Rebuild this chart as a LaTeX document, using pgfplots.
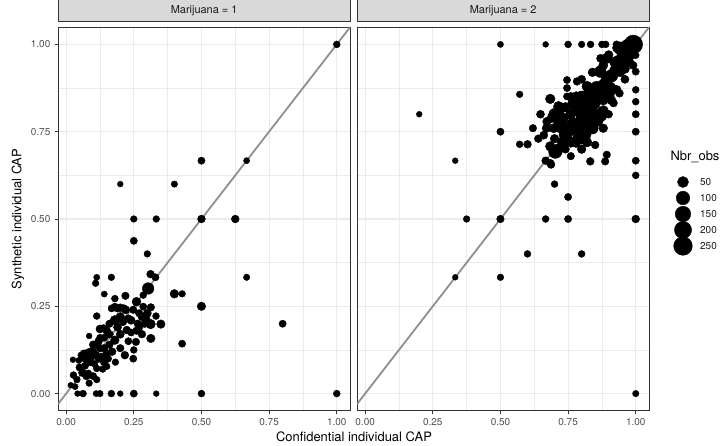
\documentclass[border=0pt]{standalone}
\usepackage{fontspec}
\setmainfont{TeX Gyre Heros}
\usepackage{pgfplots}
\usepackage{pgfplotstable}
\pgfplotsset{compat=1.18}

\definecolor{gridgray}{HTML}{EBEBEB}
\definecolor{stripgray}{HTML}{D9D9D9}
\definecolor{framegray}{HTML}{333333}
\definecolor{ticktext}{HTML}{4D4D4D}
\definecolor{linegray}{HTML}{8F8F8F}

% Marijuana = 1 : confidential CAP, synthetic CAP, Nbr_obs
\pgfplotstableread{
x y n
1.000 1.000 6
0.500 0.667 8
0.667 0.667 3
0.200 0.600 2
0.400 0.600 4
0.250 0.500 5
0.333 0.500 5
0.500 0.500 12
0.625 0.500 12
0.250 0.4375 8
0.300 0.400 5
0.667 0.333 4
0.400 0.2857 20
0.4286 0.2857 5
0.500 0.250 18
0.800 0.200 8
0.4286 0.1429 8
1.000 0.000 6
0.042 0.000 2
0.0625 0.000 6
0.111 0.000 3
0.125 0.000 4
0.167 0.000 6
0.200 0.000 2
0.250 0.000 8
0.333 0.000 2
0.500 0.000 6
0.017 0.024 2
0.025 0.097 2
0.047 0.095 3
0.027 0.053 6
0.040 0.040 5
0.033 0.020 3
0.050 0.075 10
0.055 0.110 4
0.065 0.115 8
0.080 0.118 6
0.060 0.060 12
0.070 0.080 8
0.075 0.050 10
0.085 0.030 5
0.082 0.058 6
0.090 0.090 10
0.085 0.165 2
0.100 0.120 8
0.100 0.140 12
0.110 0.140 14
0.113 0.072 6
0.113 0.040 5
0.100 0.050 8
0.120 0.100 10
0.130 0.105 12
0.150 0.115 15
0.150 0.078 5
0.140 0.090 10
0.125 0.130 12
0.113 0.222 6
0.109 0.316 5
0.113 0.333 3
0.141 0.285 3
0.167 0.333 5
0.180 0.272 6
0.219 0.280 10
0.138 0.187 10
0.125 0.185 14
0.150 0.180 12
0.160 0.200 10
0.168 0.244 8
0.180 0.248 12
0.190 0.244 10
0.200 0.246 12
0.213 0.244 10
0.180 0.210 30
0.190 0.190 15
0.180 0.153 20
0.200 0.170 15
0.182 0.090 5
0.217 0.110 12
0.224 0.182 12
0.210 0.205 10
0.240 0.175 8
0.248 0.240 10
0.260 0.263 22
0.248 0.100 8
0.250 0.125 6
0.258 0.148 10
0.265 0.200 12
0.270 0.230 10
0.280 0.170 12
0.285 0.249 8
0.285 0.282 6
0.290 0.200 10
0.295 0.215 12
0.303 0.301 60
0.312 0.342 12
0.330 0.333 8
0.313 0.247 10
0.332 0.222 6
0.350 0.199 18
0.312 0.199 30
0.313 0.158 18
0.270 0.190 8
0.230 0.215 10
0.160 0.140 10
0.170 0.120 12
0.140 0.160 8
0.125 0.160 6
0.075 0.110 5
0.095 0.105 6
0.105 0.085 5
0.155 0.100 8
0.135 0.070 5
0.200 0.220 20
0.220 0.240 15
0.240 0.210 15
0.160 0.170 12
0.140 0.130 10
0.120 0.150 12
0.090 0.120 12
0.070 0.100 10
0.280 0.220 12
0.300 0.230 15
0.260 0.180 10
0.200 0.130 10
0.230 0.150 8
0.110 0.110 10
}\capone

% Marijuana = 2
\pgfplotstableread{
x y n
0.500 1.000 3
0.667 1.000 2
0.750 1.000 6
0.800 1.000 5
0.833 1.000 6
0.875 1.000 6
0.889 1.000 6
0.929 1.000 8
0.200 0.800 2
0.571 0.857 5
0.500 0.750 8
0.571 0.714 6
0.600 0.714 12
0.333 0.667 2
0.333 0.333 2
0.375 0.500 5
0.500 0.500 10
0.667 0.500 6
0.750 0.500 8
1.000 0.500 12
0.600 0.400 6
0.800 0.400 6
0.500 0.333 5
1.000 0.000 4
0.700 0.600 6
0.750 0.563 8
0.667 0.667 12
0.687 0.656 12
1.000 0.969 6
1.000 0.922 8
1.000 0.870 6
1.000 0.836 6
1.000 0.800 8
1.000 0.750 8
1.000 0.667 8
1.000 0.625 6
0.648 0.800 14
0.672 0.779 20
0.697 0.760 25
0.684 0.844 30
0.715 0.822 40
0.746 0.898 8
0.783 0.894 12
0.746 0.875 8
0.746 0.851 8
0.684 0.708 30
0.703 0.693 100
0.684 0.660 12
0.780 0.717 20
0.820 0.741 15
0.850 0.712 12
0.832 0.665 12
0.893 0.684 10
0.887 0.665 10
0.918 0.832 12
0.832 0.855 150
0.807 0.798 150
0.869 0.922 60
0.893 0.960 40
0.783 0.817 80
0.770 0.770 100
0.820 0.760 80
0.869 0.798 100
0.906 0.875 60
0.942 0.922 40
0.967 0.960 60
0.856 0.875 100
0.733 0.789 40
0.721 0.760 30
0.733 0.741 25
0.783 0.731 30
0.832 0.789 120
0.893 0.903 50
0.942 0.989 80
0.991 1.000 250
0.970 0.995 100
0.930 0.990 20
0.760 0.800 40
0.800 0.850 60
0.850 0.830 40
0.880 0.840 30
0.900 0.800 12
0.880 0.760 20
0.740 0.700 15
0.760 0.680 10
0.800 0.700 20
0.700 0.730 20
0.660 0.740 15
0.620 0.760 10
0.640 0.730 12
0.760 0.850 20
0.800 0.900 15
0.840 0.920 20
0.880 0.940 25
0.920 0.950 30
0.950 0.940 20
0.980 0.970 40
0.990 0.940 15
0.960 0.900 15
0.940 0.860 12
0.700 0.800 60
0.720 0.775 80
0.745 0.745 60
0.760 0.760 120
0.790 0.760 80
0.800 0.780 100
0.810 0.820 120
0.830 0.820 100
0.845 0.845 100
0.860 0.850 80
0.870 0.870 100
0.885 0.885 80
0.900 0.860 60
0.910 0.910 80
0.925 0.925 60
0.935 0.950 80
0.955 0.965 100
0.965 0.985 60
0.950 0.990 50
0.900 0.970 20
0.870 0.960 15
0.820 0.880 40
0.780 0.850 40
0.770 0.830 60
0.740 0.820 30
0.720 0.810 25
0.690 0.790 30
0.670 0.760 20
0.710 0.700 40
0.730 0.720 50
0.760 0.720 40
0.800 0.730 50
0.820 0.720 30
0.840 0.760 60
0.860 0.780 40
0.880 0.810 40
0.910 0.840 25
0.930 0.870 20
0.960 0.930 25
0.975 0.950 30
0.985 0.985 60
}\captwo

% size legend keys
\pgfplotstableread{
x y n
0 5 50
0 4 100
0 3 150
0 2 200
0 1 250
}\capkeys

\pgfplotsset{
  capfacet/.style={
    scale only axis, width=291.7bp, height=383.4bp,
    xmin=-0.029, xmax=1.049, ymin=-0.049, ymax=1.049,
    xtick={0,0.25,0.5,0.75,1}, ytick={0,0.25,0.5,0.75,1},
    minor tick num=1, grid=both,
    major grid style={color=gridgray, line width=1.07bp},
    minor grid style={color=gridgray, line width=0.53bp},
    axis line style={framegray, line width=0.8bp},
    tick align=outside, major tick length=3.6bp, minor tick length=0pt,
    tick style={framegray, line width=0.8bp},
    tick pos=left,
    ticklabel style={font=\fontsize{10}{12}\selectfont, text=ticktext,
      /pgf/number format/fixed, /pgf/number format/fixed zerofill,
      /pgf/number format/precision=2, /pgf/number format/assume math mode=true},
    xticklabel style={inner sep=0pt, yshift=-4.2bp},
    yticklabel style={inner sep=0pt, xshift=-4.2bp},
    title style={at={(0.5,1)}, anchor=south, yshift=0pt, fill=stripgray,
      draw=framegray, line width=0.8bp, minimum width=291.7bp,
      minimum height=21.3bp, inner sep=0pt, text=black!90,
      font=\fontsize{11}{13}\selectfont},
  },
  % dot radius grows with sqrt of Nbr_obs, like ggplot's scale_size
  capdots/.style={forget plot, scatter, only marks, mark=*, black,
    point meta=explicit symbolic,
    scatter/@pre marker code/.code={%
      \pgfmathsetmacro\rad{2.5+0.435*sqrt(\pgfplotspointmeta-1)}%
      \scope[mark size=\rad pt, draw=black, fill=black]},
    scatter/@post marker code/.code={\endscope}},
  diag/.style={forget plot, color=linegray, line width=1.8bp},
}

\begin{document}
\begin{tikzpicture}
\useasboundingbox (0,0) rectangle (722bp,-446bp);
\begin{axis}[capfacet, at={(58.3bp,-27.3bp)}, anchor=north west,
  title={Marijuana = 1}]
  \addplot[capdots] table[x=x, y=y, meta=n] {\capone};
  \addplot[diag] coordinates {(-0.2,-0.2) (1.2,1.2)};
\end{axis}
\begin{axis}[capfacet, at={(357.3bp,-27.3bp)}, anchor=north west,
  title={Marijuana = 2}, yticklabels={}, ytick style={draw=none}]
  \addplot[capdots] table[x=x, y=y, meta=n] {\captwo};
  \addplot[diag] coordinates {(-0.2,-0.2) (1.2,1.2)};
\end{axis}
% legend for Nbr_obs
\begin{axis}[hide axis, scale only axis, width=10bp, height=64bp,
  xmin=-1, xmax=1, ymin=1, ymax=5, clip=false,
  at={(678bp,-182bp)}, anchor=north west]
  \addplot[capdots] table[x=x, y=y, meta=n] {\capkeys};
  \foreach \k/\lab in {5/50,4/100,3/150,2/200,1/250}{
    \edef\tmp{\noexpand\node[anchor=west, xshift=17bp, inner sep=0pt,
      font=\noexpand\fontsize{10}{12}\noexpand\selectfont, text=black!90]
      at (axis cs:0,\k) {\lab};}\tmp
  }
\end{axis}
\node[anchor=west, font=\fontsize{13}{15}\selectfont] at (667bp,-157bp) {Nbr\_obs};
\node[font=\fontsize{13}{15}\selectfont] at (354bp,-437bp) {Confidential individual CAP};
\node[rotate=90, font=\fontsize{13}{15}\selectfont] at (18bp,-219bp) {Synthetic individual CAP};
\end{tikzpicture}
\end{document}
